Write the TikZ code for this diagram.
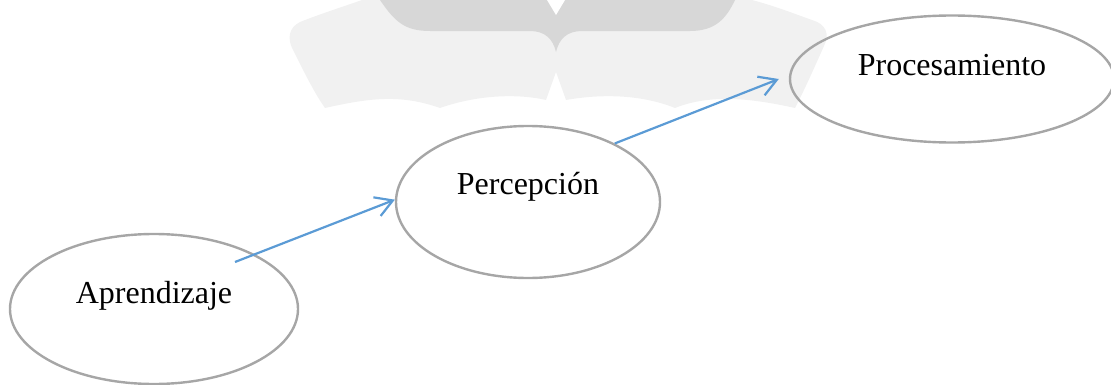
\documentclass[tikz,border=0pt]{standalone}
\usepackage{fontspec}
\setmainfont{Liberation Serif}
\usetikzlibrary{arrows.meta,shapes}
\pgfdeclarelayer{background}
\pgfsetlayers{background,main}
\definecolor{rimgray}{HTML}{A6A6A6}
\definecolor{linkblue}{HTML}{5B9BD5}
\tikzstyle{bubble}=[ellipse,draw=rimgray,line width=2.4pt,inner sep=0pt]
\tikzstyle{word}=[anchor=base,inner sep=0pt,font=\fontsize{32}{38}\selectfont]
\tikzstyle{link} = [draw,linkblue,line width=2.2pt,-{Straight Barb[length=17pt,width=20pt]}]

\begin{document}
\begin{tikzpicture}[x=1pt,y=1pt]
    \useasboundingbox (0,0) rectangle (1111,384);
    % faint watermark behind the chain
    \begin{pgfonlayer}{background}
    \fill[gray!11] (362,384) .. controls (345,378) and (320,370) .. (300,362)
        .. controls (288,356) and (288,345) .. (292,336)
        .. controls (305,310) and (315,290) .. (325,276)
        .. controls (370,286) and (400,290) .. (440,276)
        .. controls (480,290) and (520,290) .. (546,284) -- (556,312) -- (566,284)
        .. controls (600,290) and (640,290) .. (675,276)
        .. controls (710,290) and (750,286) .. (795,276)
        .. controls (805,295) and (815,318) .. (824,338)
        .. controls (830,350) and (826,360) .. (812,364)
        .. controls (795,370) and (775,378) .. (752,384) -- cycle;
    \fill[gray!31] (380,384) .. controls (395,362) and (405,353) .. (430,353) -- (530,353)
        .. controls (545,353) and (553,345) .. (556,332)
        .. controls (559,345) and (567,353) .. (582,353) -- (690,353)
        .. controls (715,353) and (726,365) .. (735,384) -- cycle;
    \fill[white] (547,384) -- (556,369) -- (565,384) -- cycle;
    \end{pgfonlayer}
    % the three stages
    \foreach \pos/\name/\w/\h/\up/\txt in {{(154,75)/aprend/288/150/6/Aprendizaje},
        {(528,182)/perc/264/152/8/Percepción}, {(952,305)/proc/324/127/4/Procesamiento}}
    {
        \node[bubble,minimum width=\w pt,minimum height=\h pt] (\name) at \pos {};
        \node[word] (\name-t) at ([yshift=\up pt]\name.center) {\txt};
    }
    % arrows between the stages
    \coordinate (aprend-out) at (235,122);
    \path[link] (aprend-out) -- (perc.179);
    \path[link] (perc.34) -- ([xshift=-10pt]proc.west);
\end{tikzpicture}
\end{document}
